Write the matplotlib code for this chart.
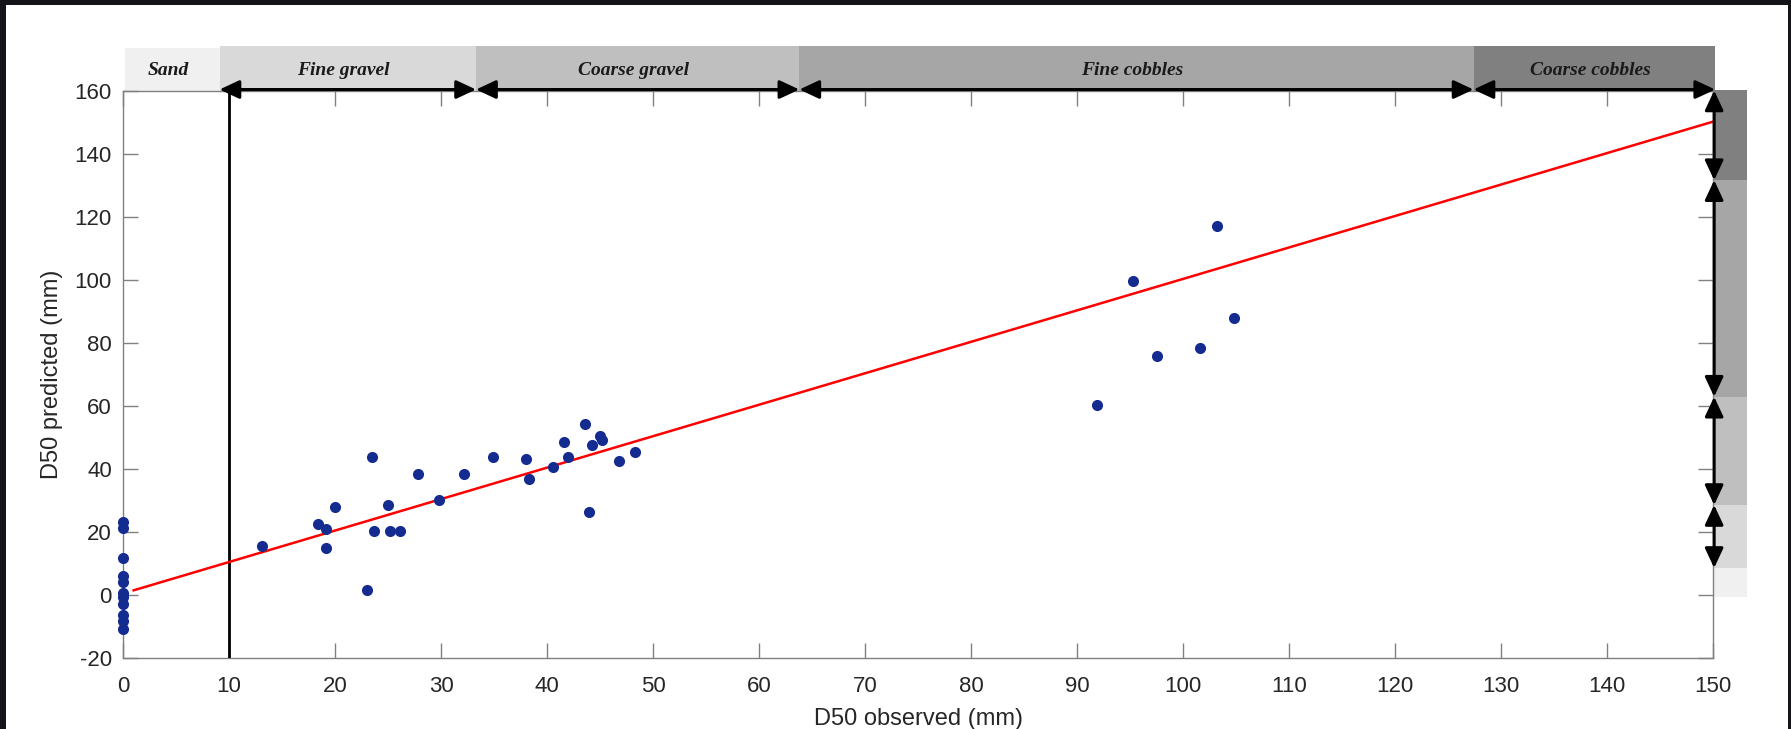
import numpy as np
import matplotlib
matplotlib.use("Agg")
import matplotlib.pyplot as plt
from matplotlib.patches import Rectangle

plt.rcParams['font.family'] = ['Liberation Sans', 'DejaVu Sans']
plt.rcParams['axes.unicode_minus'] = False

# observed vs predicted D50 (mm)
obs = [0, 0, 0, 0, 0, 0, 0, 0, 0, 0, 0,
       13.1, 18.4, 19.1, 19.1, 20.0, 23.0, 23.5, 23.7, 25.0, 25.2, 26.1,
       27.8, 29.8, 32.2, 34.9, 38.0, 38.3, 40.6, 41.6, 42.0, 43.6, 44.0,
       44.2, 45.0, 45.2, 46.8, 48.3,
       91.9, 95.3, 97.5, 101.6, 103.2, 104.8]
pred = [23.3, 21.4, 11.7, 6.1, 4.2, 0.5, -0.5, -2.9, -6.4, -8.3, -10.8,
        15.7, 22.5, 20.9, 15.0, 28.1, 1.7, 44.0, 20.2, 28.5, 20.2, 20.2,
        38.5, 30.2, 38.5, 44.0, 43.1, 36.9, 40.8, 48.6, 44.0, 54.4, 26.3,
        47.6, 50.5, 49.4, 42.6, 45.5,
        60.3, 99.7, 76.0, 78.6, 117.1, 88.0]

# fitted line
fit_x = [1, 150]
fit_y = [1.5, 150.4]

# grain size classes
classes = ['Sand', 'Fine gravel', 'Coarse gravel', 'Fine cobbles', 'Coarse cobbles']
class_colors = ['#f0f0f0', '#d9d9d9', '#bfbfbf', '#a6a6a6', '#808080']
x_edges = [0.2, 9.1, 33.3, 63.8, 127.4, 150.2]
y_edges = [-0.5, 8.6, 28.6, 63.0, 131.8, 160.3]

fig = plt.figure(figsize=(17.91, 7.29), dpi=100, facecolor='#141418')
fig.add_artist(Rectangle((6/1791, 0), 1782/1791, 724/729, transform=fig.transFigure,
                         facecolor='white', edgecolor='none', zorder=-1))
ax = fig.add_axes([0.0687, 0.0974, 0.8878, 0.7772])

# top class boxes
for i, name in enumerate(classes):
    top = 173.8 if i == 0 else 174.4
    ax.add_patch(Rectangle((x_edges[i], 160), x_edges[i+1]-x_edges[i], top-160,
                           facecolor=class_colors[i], edgecolor='none', clip_on=False, zorder=1))
    ax.text((x_edges[i]+x_edges[i+1])/2 - 0.4, 166.8, name, ha='center', va='center',
            fontsize=14, fontstyle='italic', fontweight='bold',
            family=['Liberation Serif', 'DejaVu Serif'], color='#1a1a1a', zorder=2)

# right class bar
for i in range(5):
    ax.add_patch(Rectangle((150.1, y_edges[i]), 3.1, y_edges[i+1]-y_edges[i],
                           facecolor=class_colors[i], edgecolor='none', clip_on=False, zorder=1))

arr = dict(arrowstyle='<|-|>,head_length=0.6,head_width=0.28', color='k', lw=2.2,
           shrinkA=0, shrinkB=0, mutation_scale=20)
for i in range(1, 5):
    ax.annotate('', xy=(x_edges[i+1], 160.6), xytext=(x_edges[i], 160.6),
                arrowprops=arr, annotation_clip=False, zorder=4)
    ax.annotate('', xy=(150.1, y_edges[i+1]), xytext=(150.1, y_edges[i]),
                arrowprops=arr, annotation_clip=False, zorder=4)

ax.plot([10, 10], [-20, 160], color='k', lw=2, zorder=3)
ax.plot(fit_x, fit_y, color='#ff0000', lw=1.8, zorder=3)
ax.plot(obs, pred, 'o', color='#142b8f', markersize=8, markeredgewidth=0,
        clip_on=False, zorder=5)

ax.set_xlim(0, 150)
ax.set_ylim(-20, 160)
ax.set_xticks(np.arange(0, 151, 10))
ax.set_yticks(np.arange(-20, 161, 20))
for s in ax.spines.values():
    s.set_color('#808080')
    s.set_linewidth(1)
ax.tick_params(direction='in', length=11, width=1, color='#808080', top=True, right=True,
               labelsize=16, labelcolor='#262626')
ax.tick_params(axis='x', pad=13)
ax.tick_params(axis='y', pad=8)

ax.set_xlabel('D50 observed (mm)', fontsize=17, color='#262626')
ax.set_ylabel('D50 predicted (mm)', fontsize=17, color='#262626')
ax.xaxis.set_label_coords(0.5, -0.088)
ax.yaxis.set_label_coords(-0.038, 0.5)

fig.savefig('out.png', dpi=100, facecolor=fig.get_facecolor())
